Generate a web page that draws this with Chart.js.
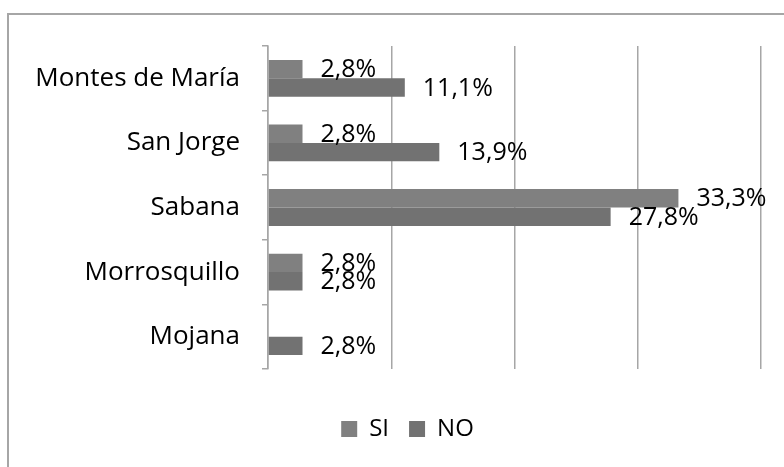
<!DOCTYPE html>
<html>
<head>
<meta charset="utf-8">
<script src="https://cdn.jsdelivr.net/npm/chart.js@4"></script>
<style>
  html, body { margin: 0; padding: 0; background: #fff; }
  #wrap { position: relative; width: 784px; height: 467px; }
  #frame { position: absolute; left: 7px; top: 13px; right: 0; bottom: 0; border-left: 2px solid #a6a6a6; border-top: 2px solid #a6a6a6; pointer-events: none; }
</style>
</head>
<body>
<div id="wrap">
  <canvas id="chart" width="784" height="467"></canvas>
  <div id="frame"></div>
</div>
<script>
const REGIONS = ['Montes de María', 'San Jorge', 'Sabana', 'Morrosquillo', 'Mojana'];
const SI_VALUES = [2.8, 2.8, 33.3, 2.8, null];
const NO_VALUES = [11.1, 13.9, 27.8, 2.8, 2.8];
const X_TICKS = [0, 10, 20, 30, 40];

const GRID = '#a6a6a6';
const FONT = '"Open Sans", sans-serif';

// ─── Value labels to the right of each bar ─────────────────────
const valueLabels = {
    id: 'valueLabels',
    afterDatasetsDraw(chart) {
        const ctx = chart.ctx;
        ctx.save();
        ctx.font = `25px ${FONT}`;
        ctx.fillStyle = '#000';
        ctx.textBaseline = 'middle';
        ctx.textAlign = 'left';
        chart.data.datasets.forEach((ds, di) => {
            chart.getDatasetMeta(di).data.forEach((bar, i) => {
                const v = ds.data[i];
                if (v == null) return;
                ctx.fillText(v.toFixed(1).replace('.', ',') + '%', bar.x + 18, bar.y + 1);
            });
        });
        ctx.restore();
    }
};

// legend sits a bit right of the canvas centre in the original
const legendShift = {
    id: 'legendShift',
    afterLayout(chart) { chart.legend.left = 54; }
};

new Chart(document.getElementById('chart'), {
    type: 'bar',
    data: {
        labels: REGIONS,
        datasets: [
            { label: 'SI', data: SI_VALUES, backgroundColor: '#808080' },
            { label: 'NO', data: NO_VALUES, backgroundColor: '#727272' },
        ],
    },
    options: {
        indexAxis: 'y',
        responsive: false,
        animation: false,
        categoryPercentage: 0.57,
        barPercentage: 1,
        layout: { padding: { left: 0, right: 23, top: 46, bottom: 16 } },
        plugins: {
            legend: {
                position: 'bottom',
                labels: { boxWidth: 16, boxHeight: 16, padding: 20, color: '#000', font: { family: FONT, size: 24 } },
            },
            tooltip: { enabled: false },
        },
        scales: {
            x: {
                min: X_TICKS[0],
                max: X_TICKS[X_TICKS.length - 1],
                afterBuildTicks: (s) => { s.ticks = X_TICKS.map((v) => ({ value: v })); },
                ticks: { display: false },
                grid: { color: GRID, lineWidth: 1.5, drawTicks: false },
                border: { display: false },
                afterFit: (s) => { s.height = 28; },
            },
            y: {
                ticks: { color: '#000', padding: 22, font: { family: FONT, size: 26 } },
                grid: { drawOnChartArea: false, drawTicks: true, tickLength: 6, color: GRID, lineWidth: 1.5 },
                border: { display: true, color: GRID, width: 1.5 },
                afterFit: (s) => { s.width = 268; },
            },
        },
    },
    plugins: [valueLabels, legendShift],
});
</script>
</body>
</html>
